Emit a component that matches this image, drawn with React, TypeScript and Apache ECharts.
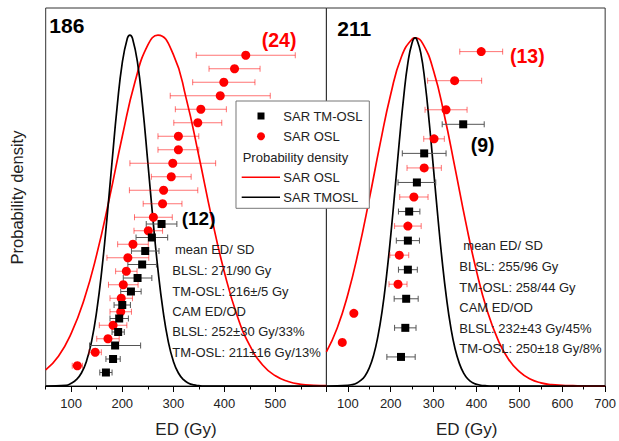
import React, { useEffect, useRef } from "react";
import * as echarts from "echarts";

// ---- Data ----
// Panel 186 (left)
const LEFT_RED_ED = [442, 420, 399, 392, 354, 348, 310, 310, 299, 296, 281, 279, 261, 251, 221, 211, 208, 202, 198, 197, 182, 172, 147, 112];
const LEFT_RED_ERR = [97, 50, 61, 98, 50, 47, 40, 40, 84, 39, 67, 38, 37, 28, 30, 41, 21, 29, 22, 21, 27, 22, 12, 10];
const LEFT_BLACK_ED = [277, 258, 245, 239, 230, 217, 200, 194, 192, 186, 182, 168];
const LEFT_BLACK_ERR = [30, 31, 27, 28, 28, 20, 16, 18, 12, 50, 14, 12];
// Panel 211 (right)
const RIGHT_RED_ED = [411, 349, 329, 301, 278, 254, 240, 220, 217, 114, 87];
const RIGHT_RED_ERR = [50, 63, 49, 24, 40, 33, 31, 22, 21, 0, 0];
const RIGHT_BLACK_ED = [369, 278, 261, 243, 240, 240, 236, 234, 224];
const RIGHT_BLACK_ERR = [49, 51, 44, 25, 27, 22, 28, 25, 33];

// Probability density curves (normalised)
const LEFT_RED_DX = [50, 75, 100, 125, 150, 175, 200, 225, 250, 270, 300, 325, 350, 375, 400, 425, 450, 475, 500, 525, 550, 575, 600];
const LEFT_RED_DY = [0.046, 0.085, 0.15, 0.245, 0.375, 0.536, 0.711, 0.867, 0.971, 1.0, 0.945, 0.821, 0.656, 0.481, 0.325, 0.201, 0.115, 0.06, 0.029, 0.013, 0.005, 0.002, 0.001];
const LEFT_BLACK_DX = [50, 90, 100, 110, 120, 130, 140, 150, 160, 170, 180, 190, 200, 210, 215, 220, 230, 240, 250, 260, 270, 280, 290, 300, 310, 320, 330, 340, 350, 360, 600];
const LEFT_BLACK_DY = [0, 0.002, 0.008, 0.018, 0.037, 0.071, 0.128, 0.214, 0.331, 0.477, 0.639, 0.796, 0.921, 0.991, 1.0, 0.991, 0.921, 0.796, 0.639, 0.477, 0.331, 0.214, 0.128, 0.071, 0.037, 0.018, 0.008, 0.003, 0.001, 0, 0];
const RIGHT_RED_DX = [50, 75, 100, 125, 150, 175, 200, 225, 250, 257, 275, 300, 325, 350, 375, 400, 425, 450, 475, 500, 525, 550, 575, 600, 625, 650, 700];
const RIGHT_RED_DY = [0.098, 0.166, 0.263, 0.389, 0.537, 0.694, 0.838, 0.946, 0.997, 1.0, 0.983, 0.905, 0.778, 0.626, 0.47, 0.33, 0.216, 0.133, 0.076, 0.041, 0.02, 0.009, 0.004, 0.002, 0.001, 0, 0];
const RIGHT_BLACK_DX = [50, 100, 110, 120, 130, 140, 150, 160, 170, 180, 190, 200, 210, 220, 230, 240, 250, 257, 260, 270, 280, 290, 300, 310, 320, 330, 340, 350, 360, 370, 380, 390, 400, 410, 420, 430, 700];
const RIGHT_BLACK_DY = [0, 0.002, 0.004, 0.008, 0.016, 0.029, 0.052, 0.088, 0.142, 0.216, 0.314, 0.432, 0.565, 0.702, 0.828, 0.928, 0.987, 1.0, 0.998, 0.957, 0.872, 0.755, 0.62, 0.484, 0.359, 0.253, 0.169, 0.107, 0.065, 0.037, 0.02, 0.01, 0.005, 0.002, 0.001, 0, 0];

const LEFT_MAJOR = [100, 200, 300, 400, 500, 600];
const LEFT_MINOR = [50, 150, 250, 350, 450, 550];
const LEFT_LABELS = [100, 200, 300, 400, 500];
const RIGHT_MAJOR = [100, 200, 300, 400, 500, 600, 700];
const RIGHT_MINOR = [50, 150, 250, 350, 450, 550, 650];
const RIGHT_LABELS = [100, 200, 300, 400, 500, 600, 700];

const LEFT_NOTES = ["mean ED/ SD", "BLSL: 271/90 Gy", "TM-OSL: 216\u00b1/5 Gy", "CAM ED/OD", "BLSL: 252\u00b130 Gy/33%", "TM-OSL: 211\u00b116 Gy/13%"];
const RIGHT_NOTES = ["mean ED/ SD", "BLSL: 255/96 Gy", "TM-OSL: 258/44 Gy", "CAM ED/OD", "BLSL: 232\u00b143 Gy/45%", "TM-OSL: 250\u00b118 Gy/8%"];

const FONT = '"Liberation Sans", Arial, sans-serif';
const RED = "#ff0000";

function pairs(xs: number[], ys: number[]) {
  return xs.map((x, i) => [x, ys[i]]);
}
function ranked(eds: number[], errs: number[], offset: number) {
  const n = eds.length;
  return eds.map((e, i) => [e, n - i + offset, errs[i]]);
}

function errSeries(xi: number, yi: number, data: number[][], color: string) {
  return {
    type: "custom",
    xAxisIndex: xi,
    yAxisIndex: yi,
    data,
    z: 3,
    silent: true,
    encode: { x: 0, y: 1 },
    renderItem: (params: any, api: any) => {
      const x = api.value(0);
      const y = api.value(1);
      const e = api.value(2);
      if (!e) return { type: "group", children: [] };
      const a = api.coord([x - e, y]);
      const b = api.coord([x + e, y]);
      const st = { stroke: color, lineWidth: 1 };
      return {
        type: "group",
        children: [
          { type: "line", shape: { x1: a[0], y1: a[1], x2: b[0], y2: b[1] }, style: st },
          { type: "line", shape: { x1: a[0], y1: a[1] - 3, x2: a[0], y2: a[1] + 3 }, style: st },
          { type: "line", shape: { x1: b[0], y1: b[1] - 3, x2: b[0], y2: b[1] + 3 }, style: st },
        ],
      };
    },
  };
}

function txt(text: string, x: number, y: number, size: number, opts: any = {}) {
  return {
    type: "text",
    x,
    y,
    z: 100,
    rotation: opts.rotation || 0,
    style: {
      text,
      fill: opts.color || "#222",
      font: `${opts.bold ? "bold " : ""}${size}px ${FONT}`,
      fontSize: size,
      fontWeight: opts.bold ? "bold" : "normal",
      fontFamily: FONT,
      textAlign: opts.align || "left",
      align: opts.align || "left",
      textVerticalAlign: "middle",
      verticalAlign: "middle",
    },
  };
}

export default function App() {
  const ref = useRef<HTMLDivElement>(null);
  useEffect(() => {
    if (!ref.current) return;
    const chart = echarts.init(ref.current, null, { renderer: "svg" });

    const gridBase = { top: 8, height: 378, show: true, borderColor: "#333", borderWidth: 1, backgroundColor: "transparent" };
    const majorAxis = (gi: number, min: number, max: number, ticks: number[], labels: number[]) => ({
      type: "value",
      gridIndex: gi,
      min,
      max,
      position: "bottom",
      axisLine: { show: true, lineStyle: { color: "#000", width: 1 } },
      axisTick: { show: true, customValues: ticks, length: 6, lineStyle: { color: "#000" } },
      axisLabel: { show: true, customValues: labels, margin: 11, color: "#222", fontSize: 13, fontFamily: FONT },
      splitLine: { show: false },
    });
    const minorAxis = (gi: number, min: number, max: number, ticks: number[]) => ({
      type: "value",
      gridIndex: gi,
      min,
      max,
      position: "bottom",
      axisLine: { show: false },
      axisTick: { show: true, customValues: ticks, length: 3.5, lineStyle: { color: "#000" } },
      axisLabel: { show: false },
      splitLine: { show: false },
    });
    const hiddenY = (gi: number, max: number) => ({
      type: "value",
      gridIndex: gi,
      min: 0,
      max,
      show: false,
      splitLine: { show: false },
    });

    const lineS = (xi: number, yi: number, data: number[][], color: string) => ({
      type: "line",
      xAxisIndex: xi,
      yAxisIndex: yi,
      data,
      smooth: true,
      showSymbol: false,
      symbol: "none",
      z: 2,
      lineStyle: { color, width: 1.7 },
      silent: true,
    });
    const scat = (xi: number, yi: number, data: number[][], color: string, symbol: string, size: number) => ({
      type: "scatter",
      xAxisIndex: xi,
      yAxisIndex: yi,
      data,
      symbol,
      symbolSize: size,
      itemStyle: { color, opacity: 1 },
      z: 4,
      silent: true,
    });

    const lrd = ranked(LEFT_RED_ED, LEFT_RED_ERR, 0.5);
    const lbd = ranked(LEFT_BLACK_ED, LEFT_BLACK_ERR, 0);
    const rrd = ranked(RIGHT_RED_ED, RIGHT_RED_ERR, 0.5);
    const rbd = ranked(RIGHT_BLACK_ED, RIGHT_BLACK_ERR, 0);

    const graphics: any[] = [];
    graphics.push(txt("186", 49.3, 25.5, 21, { bold: true, color: "#000" }));
    graphics.push(txt("211", 337.3, 28, 21, { bold: true, color: "#000" }));
    graphics.push(txt("(24)", 261.7, 39.5, 19.5, { bold: true, color: RED }));
    graphics.push(txt("(12)", 181.7, 218.3, 19, { bold: true, color: "#000" }));
    graphics.push(txt("(13)", 510, 56, 19.5, { bold: true, color: RED }));
    graphics.push(txt("(9)", 470.7, 145, 19.5, { bold: true, color: "#000" }));

    const leftY = [249.3, 270.7, 291.7, 311, 331.7, 352.7];
    LEFT_NOTES.forEach((s, i) => graphics.push(txt(s, i === 0 ? 175 : 172.3, leftY[i], 13)));
    const rightY = [245, 266, 287.3, 307.3, 328.3, 348.3];
    RIGHT_NOTES.forEach((s, i) => graphics.push(txt(s, i === 0 ? 463.3 : 459.3, rightY[i], 13)));

    graphics.push(txt("ED (Gy)", 186, 429, 17, { align: "center" }));
    graphics.push(txt("ED (Gy)", 466.7, 429, 17, { align: "center" }));
    graphics.push(txt("Probability density", 17, 197.5, 16.5, { align: "center", rotation: Math.PI / 2 }));

    // Legend
    graphics.push({ type: "rect", z: 90, shape: { x: 236, y: 101, width: 133.3, height: 107.3 }, style: { fill: "#fff", stroke: "#777", lineWidth: 1 } });
    graphics.push({ type: "rect", z: 100, shape: { x: 257.5, y: 112.5, width: 7, height: 7 }, style: { fill: "#000" } });
    graphics.push({ type: "circle", z: 100, shape: { cx: 261, cy: 136.3, r: 4 }, style: { fill: RED } });
    graphics.push({ type: "line", z: 100, shape: { x1: 241.7, y1: 177.3, x2: 280, y2: 177.3 }, style: { stroke: RED, lineWidth: 1.5 } });
    graphics.push({ type: "line", z: 100, shape: { x1: 241.7, y1: 197.3, x2: 280, y2: 197.3 }, style: { stroke: "#000", lineWidth: 1.5 } });
    graphics.push(txt("SAR TM-OSL", 283.3, 116, 13));
    graphics.push(txt("SAR OSL", 283.3, 136.5, 13));
    graphics.push(txt("Probability density", 242.7, 157, 13));
    graphics.push(txt("SAR OSL", 283.3, 177.5, 13));
    graphics.push(txt("SAR TMOSL", 283.3, 197.5, 13));

    chart.setOption({
      animation: false,
      backgroundColor: "#fff",
      grid: [
        { ...gridBase, left: 45.7, width: 280.7 },
        { ...gridBase, left: 326.4, width: 280.6 },
      ],
      xAxis: [
        majorAxis(0, 50, 600, LEFT_MAJOR, LEFT_LABELS),
        minorAxis(0, 50, 600, LEFT_MINOR),
        majorAxis(1, 50, 700, RIGHT_MAJOR, RIGHT_LABELS),
        minorAxis(1, 50, 700, RIGHT_MINOR),
      ],
      yAxis: [hiddenY(0, 1.077), hiddenY(0, 28), hiddenY(1, 1.086), hiddenY(1, 13)],
      series: [
        lineS(0, 0, pairs(LEFT_RED_DX, LEFT_RED_DY), RED),
        lineS(0, 0, pairs(LEFT_BLACK_DX, LEFT_BLACK_DY), "#000"),
        lineS(2, 2, pairs(RIGHT_RED_DX, RIGHT_RED_DY), RED),
        lineS(2, 2, pairs(RIGHT_BLACK_DX, RIGHT_BLACK_DY), "#000"),
        errSeries(0, 1, lrd, "rgba(255,0,0,0.55)"),
        errSeries(0, 1, lbd, "#555"),
        errSeries(2, 3, rrd, "rgba(255,0,0,0.55)"),
        errSeries(2, 3, rbd, "#555"),
        scat(0, 1, lrd, RED, "circle", 9),
        scat(0, 1, lbd, "#000", "rect", 8),
        scat(2, 3, rrd, RED, "circle", 9),
        scat(2, 3, rbd, "#000", "rect", 8),
      ],
      graphic: graphics,
    });
    return () => chart.dispose();
  }, []);
  return <div ref={ref} style={{ position: "fixed", left: 0, top: 0, width: 619, height: 441, background: "#fff" }} />;
}
